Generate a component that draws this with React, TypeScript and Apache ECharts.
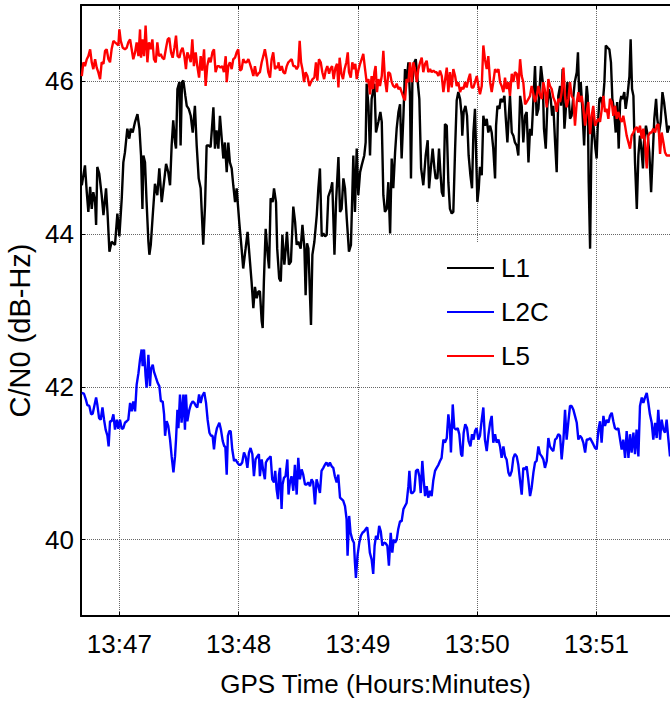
import React, { useEffect, useRef } from "react";
import * as echarts from "echarts";

// Time in seconds relative to 13:47:00, value in dB-Hz
const L1: [number, number][] = [
  [-18.9,44.64],[-17.3,44.90],[-16.4,44.55],[-15.6,44.29],[-14.7,44.62],[-13.9,44.33],[-13.1,44.55],[-12.2,44.42],[-11.7,44.12],[-11.1,44.88],
  [-10.1,44.79],[-8.9,44.51],[-8.0,44.25],[-6.7,44.60],[-5.9,44.25],[-5.0,43.77],[-3.9,43.90],[-2.2,43.86],[-1.0,44.27],[0,43.97],
  [1.2,44.47],[2.0,44.94],[2.8,45.07],[4.0,45.38],[5.0,45.25],[5.7,45.38],[6.7,45.33],[7.9,45.47],[9.1,45.57],[10.1,45.38],
  [10.9,45.03],[11.6,44.33],[12.1,45.03],[12.9,44.94],[13.7,44.42],[14.6,43.90],[15.1,43.73],[15.8,43.86],[16.8,44.25],[17.9,44.66],
  [19.1,44.51],[20.1,44.86],[21.3,44.42],[22.1,44.60],[23.5,44.92],[24.6,44.81],[25.5,44.64],[26.3,45.16],[27.1,45.49],[28.0,45.20],
  [28.5,45.12],[29.2,45.90],[30.2,45.99],[30.8,45.16],[31.5,45.99],[32.2,46.01],[33.2,45.81],[33.9,45.68],[34.9,45.64],[35.9,45.55],
  [36.9,45.33],[38.0,45.68],[38.9,45.16],[39.9,44.73],[40.9,44.60],[42.2,43.86],[43.1,44.38],[43.9,45.16],[44.9,45.16],[45.9,45.14],
  [46.8,45.47],[47.3,45.66],[48.1,45.12],[48.9,45.36],[49.8,45.12],[50.6,45.55],[51.5,45.25],[52.3,44.99],[53.1,45.20],[54.0,44.81],
  [54.8,45.20],[55.6,44.94],[56.5,44.86],[57.3,44.64],[58.2,44.42],[59.0,44.60],[60.3,44.16],[61.5,43.81],[62.3,43.55],[63.5,43.81],
  [64.5,44.03],[65.7,43.64],[66.5,43.38],[67.4,43.03],[68.2,43.31],[69.1,43.16],[69.9,43.25],[70.7,43.25],[71.6,42.86],[72.1,42.77],
  [72.7,43.38],[73.6,44.07],[74.6,43.73],[75.3,43.55],[76.1,44.47],[77.1,44.42],[77.8,44.60],[78.8,44.42],[79.4,43.81],[80.4,43.42],
  [81.2,43.38],[82.0,43.99],[83.0,43.60],[83.7,43.81],[84.3,44.03],[85.3,43.60],[86.3,43.64],[87.5,44.36],[88.4,44.16],[89.2,43.86],
  [90.0,43.90],[91.2,43.81],[92.1,44.12],[93.1,43.81],[93.7,43.20],[94.4,43.88],[95.1,43.81],[96.4,42.81],[97.1,43.73],[98.1,43.90],
  [99.3,44.25],[100.1,44.60],[100.9,44.86],[101.8,43.97],[102.6,44.01],[103.5,43.97],[104.3,43.99],[105.1,44.49],[106.5,44.60],[107.1,44.68],
  [108.2,43.73],[109.0,44.42],[110.2,45.01],[111.0,44.29],[111.8,44.33],[112.7,44.73],[113.5,44.60],[114.4,44.20],[115.5,43.77],[116.5,43.86],
  [117.7,45.03],[118.5,44.29],[119.4,45.12],[120.2,44.51],[121.1,44.81],[121.9,44.90],[123.2,45.03],[123.9,45.20],[124.4,45.97],[125.3,45.68],
  [126.1,45.03],[126.9,45.77],[128.3,45.97],[129.1,45.33],[130.3,45.47],[131.3,45.60],[132.0,45.47],[132.8,44.51],[133.6,44.29],[134.5,44.33],
  [135.3,44.68],[136.2,44.01],[137.0,44.99],[137.8,44.60],[138.7,45.07],[139.5,45.38],[140.4,45.60],[141.2,45.70],[142.0,44.99],[142.9,45.55],
  [143.7,46.16],[144.5,45.99],[145.4,46.25],[146.2,45.81],[146.7,44.73],[147.4,45.99],[148.4,46.25],[149.1,46.29],[150.1,45.99],[150.9,45.77],
  [151.8,44.86],[152.9,44.64],[154.1,45.03],[155.1,45.23],[155.8,44.60],[156.8,44.90],[157.6,45.12],[158.5,44.86],[159.1,44.73],[160.0,44.73],
  [160.8,45.12],[161.5,44.81],[162.2,44.55],[163.0,44.49],[163.8,45.44],[164.7,45.42],[165.5,44.68],[166.3,44.33],[167.2,44.27],[168.0,44.29],
  [168.9,45.12],[169.7,45.75],[170.5,45.86],[171.4,45.77],[172.2,45.55],[172.5,45.29],[173.2,45.60],[174.1,45.68],[174.9,45.55],[175.7,45.03],
  [176.6,44.77],[177.4,44.60],[178.1,45.33],[178.9,45.64],[179.4,45.12],[180.1,44.42],[180.8,44.60],[181.4,44.88],[182.3,44.77],[183.1,45.55],
  [183.9,45.42],[184.8,45.51],[185.6,45.33],[186.5,45.42],[187.3,45.33],[188.1,45.12],[189.0,44.73],[189.5,45.42],[190.2,45.68],[191.2,45.64],
  [191.8,45.77],[192.8,45.73],[193.7,45.81],[194.3,45.55],[195.2,45.20],[195.9,45.55],[196.5,45.81],[197.4,45.33],[198.2,45.29],[199.0,45.20],
  [199.9,45.16],[200.7,45.03],[201.6,45.81],[202.4,45.68],[203.2,45.20],[204.1,45.55],[204.9,45.60],[205.8,44.94],[206.6,45.38],[207.4,45.29],
  [208.3,45.77],[209.1,46.20],[209.9,45.55],[210.8,45.64],[211.6,45.99],[212.1,46.20],[213.0,45.99],[213.6,45.38],[214.5,45.12],[215.3,45.68],
  [216.1,45.90],[217.0,45.77],[217.7,45.55],[218.3,45.68],[219.2,45.20],[220.0,44.81],[220.8,45.81],[221.7,45.94],[222.2,45.68],[223.0,46.16],
  [223.9,45.38],[224.5,45.60],[225.4,45.99],[226.0,45.81],[226.7,45.51],[227.5,45.55],[228.4,45.81],[229.1,45.99],[230.1,46.12],[230.7,46.38],
  [231.4,45.73],[232.1,45.99],[232.9,45.64],[233.8,45.16],[234.4,45.60],[235.1,45.94],[235.6,45.81],[236.1,44.68],[236.8,43.81],[237.4,45.03],
  [238.1,45.55],[238.8,45.33],[239.5,45.12],[240.1,44.99],[240.6,45.38],[241.5,45.77],[242.3,45.79],[243.1,45.68],[244.0,45.99],[244.7,46.47],
  [245.7,46.44],[246.5,46.42],[247.3,46.25],[248.0,45.77],[248.8,45.64],[249.7,45.33],[250.4,45.73],[251.2,45.12],[251.9,45.73],[252.5,45.81],
  [253.2,45.77],[254.0,45.86],[254.7,45.64],[255.6,45.81],[256.6,46.07],[257.2,46.55],[257.9,45.90],[258.6,45.81],[259.4,44.94],[260.3,44.33],
  [261.1,45.03],[261.9,45.29],[262.6,45.12],[263.4,44.86],[263.9,45.20],[264.9,45.42],[265.8,45.29],[266.6,45.07],[267.5,44.55],[268.3,45.03],
  [269.1,45.51],[270.0,45.77],[270.6,45.51],[271.5,45.33],[272.3,45.47],[273.2,45.86],[274.0,45.73],[274.8,45.55],[275.7,45.33],[276.7,45.42],
];

const L2C: [number, number][] = [
  [-18.9,41.92],[-17.8,41.91],[-16.8,41.83],[-16.1,41.76],[-15.1,41.75],[-14.2,41.64],[-13.4,41.65],[-12.6,41.75],[-11.7,41.86],[-11.1,41.77],
  [-10.2,41.59],[-9.4,41.57],[-8.5,41.73],[-7.7,41.57],[-6.9,41.44],[-6.0,41.36],[-5.4,41.22],[-4.7,41.55],[-3.9,41.55],[-3.0,41.64],
  [-2.2,41.44],[-1.3,41.57],[-0.5,41.45],[0.3,41.57],[1.2,41.45],[2.0,41.46],[2.8,41.53],[3.7,41.55],[4.5,41.57],[5.4,41.79],
  [6.2,41.68],[7.0,41.81],[7.9,41.68],[8.7,42.03],[9.6,42.18],[10.4,42.36],[11.2,42.49],[11.7,42.27],[12.4,42.49],[13.2,42.14],
  [13.7,41.99],[14.6,42.42],[15.4,42.01],[15.9,42.23],[16.8,42.29],[17.4,42.20],[18.4,42.12],[19.3,42.05],[20.1,42.01],[20.9,41.81],
  [21.8,41.81],[22.5,41.64],[23.0,41.36],[23.8,41.55],[24.6,41.49],[25.5,41.31],[26.3,41.09],[27.2,40.88],[28.0,41.09],[28.5,41.31],
  [29.2,41.70],[29.7,41.46],[30.5,41.90],[31.3,41.53],[32.2,41.90],[33.0,41.44],[33.5,41.90],[34.2,41.55],[35.2,41.70],[36.0,41.77],
  [36.9,41.81],[37.7,41.79],[38.5,41.75],[39.2,41.73],[40.1,41.90],[40.9,41.79],[41.7,41.88],[42.7,41.93],[43.6,41.79],[44.4,41.57],
  [45.3,41.40],[46.1,41.36],[46.9,41.36],[47.6,41.18],[48.3,41.36],[49.1,41.46],[50.3,41.53],[51.1,41.44],[52.0,41.29],[52.8,41.22],
  [53.3,41.22],[54.0,40.85],[54.6,41.36],[55.3,41.42],[56.0,41.42],[56.8,41.18],[57.7,41.03],[58.5,41.05],[59.3,41.01],[60.2,40.98],
  [61.0,40.98],[61.8,41.01],[62.7,41.14],[63.5,41.09],[64.4,40.94],[65.2,41.14],[66.0,41.20],[66.9,41.12],[67.7,40.83],[68.5,41.05],
  [69.4,41.09],[70.2,41.12],[70.7,40.83],[71.6,41.05],[72.4,40.90],[73.2,40.79],[73.7,41.01],[74.6,41.05],[75.4,41.07],[76.1,41.09],
  [76.9,40.79],[77.8,40.75],[78.4,40.90],[79.1,40.66],[79.8,40.53],[80.3,40.85],[80.8,40.94],[81.6,40.40],[82.1,40.72],[82.8,40.81],
  [83.6,40.83],[84.5,41.05],[85.1,40.59],[85.8,40.75],[86.6,40.83],[87.5,40.64],[88.3,40.98],[89.2,40.59],[90.0,41.07],[90.8,40.79],
  [91.7,40.92],[92.5,40.85],[93.4,40.72],[94.2,40.72],[95.0,40.75],[95.9,40.70],[96.7,40.79],[97.5,40.75],[98.4,40.46],[99.2,40.79],
  [100.1,40.70],[100.9,40.61],[101.7,40.90],[102.6,40.94],[103.4,40.98],[104.2,41.01],[105.1,40.96],[105.9,41.01],[106.8,40.96],[107.6,40.94],
  [108.4,40.83],[109.3,40.75],[110.1,40.85],[111.0,40.55],[111.8,40.53],[112.6,40.51],[113.5,40.44],[114.3,40.27],[114.8,39.79],[115.6,40.31],
  [116.3,40.09],[117.2,40.00],[118.0,39.96],[118.5,39.70],[119.0,39.50],[119.8,39.79],[120.7,39.96],[121.5,40.05],[122.3,40.09],[123.2,40.11],
  [124.0,40.14],[124.7,40.16],[125.4,40.00],[126.0,39.83],[126.9,39.74],[127.7,39.55],[128.4,39.92],[129.1,40.05],[129.9,40.00],[130.7,40.18],
  [131.5,40.11],[132.3,39.92],[133.1,39.96],[134.0,39.95],[134.8,39.92],[135.6,39.66],[136.5,40.09],[137.3,39.83],[138.0,40.00],[138.7,39.96],
  [139.5,40.00],[140.3,40.14],[141.2,40.24],[142.0,40.24],[142.9,40.40],[143.7,40.44],[144.5,40.48],[145.4,40.70],[145.9,40.90],[146.7,40.61],
  [147.5,40.61],[148.4,40.64],[149.2,40.90],[150.1,40.92],[150.9,40.83],[151.6,40.61],[152.4,41.03],[153.2,40.75],[153.8,40.57],[154.6,40.70],
  [155.4,40.55],[156.3,40.64],[157.1,40.57],[157.9,40.77],[158.8,40.90],[159.6,40.94],[160.5,40.98],[161.3,41.03],[162.1,41.07],[163.0,41.31],
  [163.8,41.27],[164.7,41.33],[165.5,41.64],[166.3,41.46],[166.8,41.14],[167.7,41.77],[168.5,41.46],[169.4,41.44],[170.2,41.46],[171.0,41.38],
  [171.9,41.12],[172.5,41.09],[173.2,41.40],[174.0,41.51],[174.9,41.46],[175.7,41.29],[176.6,41.22],[177.4,41.38],[178.2,41.31],[178.9,41.42],
  [179.7,41.46],[180.6,41.31],[181.4,41.36],[182.3,41.57],[183.1,41.73],[183.9,41.31],[184.8,41.16],[185.6,41.36],[186.5,41.53],[187.3,41.62],
  [188.1,41.27],[189.0,41.38],[189.8,41.27],[190.7,41.31],[191.5,41.22],[192.3,41.07],[193.2,41.22],[194.0,41.09],[194.8,41.05],[195.7,40.88],
  [196.5,40.83],[197.4,40.90],[198.2,41.07],[199.0,41.12],[199.9,41.09],[200.7,40.98],[201.5,40.79],[202.4,40.59],[203.2,40.94],[204.1,40.92],
  [204.9,40.96],[205.7,40.79],[206.6,40.57],[207.4,40.68],[208.3,40.88],[209.1,41.01],[209.9,41.03],[210.8,41.22],[211.6,41.12],[212.5,41.09],
  [213.3,41.05],[214.1,40.94],[215.0,41.03],[215.8,41.33],[216.6,41.22],[217.5,41.18],[218.3,41.16],[219.2,41.31],[220.0,41.33],[220.8,41.38],
  [221.7,41.36],[222.5,41.05],[223.4,41.31],[224.2,41.70],[225.0,41.31],[225.9,41.55],[226.7,41.75],[227.5,41.75],[228.4,41.70],[229.2,41.62],
  [230.1,41.53],[230.9,41.31],[231.7,41.36],[232.6,41.33],[233.4,41.27],[234.3,41.14],[235.1,41.31],[235.9,41.31],[236.8,41.33],[237.6,41.29],
  [238.4,41.25],[239.3,41.20],[240.1,41.18],[241.0,41.44],[241.8,41.55],[242.6,41.27],[243.5,41.62],[244.3,41.49],[245.2,41.57],[246.0,41.53],
  [246.8,41.62],[247.7,41.66],[248.5,41.55],[249.3,41.46],[250.2,41.44],[251.0,41.46],[251.9,41.31],[252.7,41.18],[253.5,41.31],[254.4,41.07],
  [255.2,41.42],[256.1,41.07],[256.9,41.38],[257.7,41.14],[258.6,41.40],[259.4,41.12],[260.2,41.44],[261.1,41.09],[261.9,41.75],[262.8,41.86],
  [263.6,41.79],[264.4,41.86],[265.3,41.92],[266.1,41.79],[266.9,41.64],[267.8,41.53],[268.6,41.31],[269.5,41.53],[270.3,41.33],[271.1,41.70],
  [272.0,41.31],[272.8,41.57],[273.7,41.44],[274.5,41.40],[275.3,41.57],[276.2,41.31],[277.0,41.09],
];

const L5: [number, number][] = [
  [-18.9,46.07],[-18.1,46.25],[-17.3,46.20],[-16.4,46.29],[-15.6,46.33],[-14.7,46.42],[-13.9,46.25],[-13.1,46.16],[-12.2,46.29],[-11.4,46.18],
  [-10.6,46.12],[-9.7,46.03],[-8.9,46.25],[-8.0,46.23],[-7.2,46.40],[-6.4,46.42],[-5.5,46.29],[-4.7,46.25],[-3.9,46.42],[-3.0,46.53],
  [-2.2,46.51],[-1.3,46.49],[-0.5,46.47],[0.0,46.68],[0.7,46.53],[1.7,46.44],[2.8,46.42],[3.7,46.44],[4.5,46.51],[5.4,46.55],
  [6.2,46.42],[7.0,46.29],[7.9,46.38],[8.7,46.51],[9.6,46.33],[10.4,46.68],[10.9,46.31],[11.6,46.55],[12.4,46.33],[13.2,46.73],
  [14.1,46.25],[14.9,46.51],[15.8,46.42],[16.6,46.55],[17.4,46.29],[18.3,46.25],[19.1,46.51],[19.9,46.33],[20.8,46.36],[21.6,46.31],
  [22.5,46.29],[23.5,46.44],[24.3,46.55],[25.1,46.57],[26.0,46.38],[26.8,46.31],[27.7,46.44],[28.5,46.60],[29.3,46.33],[30.2,46.31],
  [31.0,46.40],[31.8,46.44],[32.7,46.33],[33.5,46.16],[34.2,46.38],[35.0,46.33],[35.9,46.25],[36.7,46.55],[37.5,46.20],[38.4,46.38],
  [39.2,46.20],[40.1,46.05],[40.9,46.33],[41.7,46.14],[42.6,46.42],[43.4,45.94],[44.2,46.20],[45.1,46.31],[45.9,46.25],[46.8,46.38],
  [47.6,46.42],[48.4,46.12],[49.3,46.20],[50.1,46.20],[50.9,46.18],[51.8,46.20],[52.6,46.12],[53.5,46.33],[54.0,45.99],[54.8,46.20],
  [55.6,46.25],[56.5,46.16],[57.3,46.29],[58.2,46.31],[59.0,46.38],[59.8,46.42],[60.7,46.14],[61.5,46.16],[62.3,46.29],[63.2,46.25],
  [64.0,46.25],[64.9,46.29],[65.7,46.23],[66.5,46.16],[67.4,46.07],[68.2,46.20],[69.1,46.07],[69.9,46.10],[70.7,46.12],[71.6,46.25],
  [72.4,46.33],[73.2,46.42],[74.1,46.29],[74.9,46.12],[75.8,46.05],[76.6,46.29],[77.4,46.38],[78.3,46.16],[79.1,46.20],[79.9,46.18],
  [80.0,46.25],[80.8,46.14],[81.7,46.20],[82.5,46.12],[83.3,46.10],[84.2,46.20],[85.0,46.25],[85.8,46.27],[86.7,46.29],[87.5,46.20],
  [88.4,46.20],[89.2,46.16],[90.0,46.20],[90.7,46.53],[91.4,46.25],[92.1,46.16],[92.9,45.99],[93.7,46.12],[94.6,46.07],[95.6,45.94],
  [96.4,45.99],[97.2,46.03],[98.1,46.05],[98.9,46.25],[99.6,46.01],[100.4,46.29],[101.3,46.25],[102.1,46.12],[103.0,46.03],[103.8,46.14],
  [104.6,46.20],[105.5,46.10],[106.1,46.16],[107.0,46.20],[107.8,46.03],[108.7,46.18],[109.5,46.23],[110.2,45.92],[110.8,46.31],[111.7,46.10],
  [112.5,46.03],[113.3,46.16],[114.2,46.25],[114.9,46.38],[115.5,46.12],[116.4,46.05],[117.2,46.25],[117.9,46.16],[118.7,46.23],[119.4,46.03],
  [120.2,46.14],[121.1,46.23],[121.9,46.29],[122.7,46.36],[123.6,46.16],[124.4,45.99],[125.3,46.03],[126.1,45.83],[126.9,46.07],[127.6,45.90],
  [128.3,46.12],[128.9,46.20],[129.6,45.86],[130.3,46.03],[131.1,45.94],[132.0,46.07],[132.8,46.40],[133.6,46.03],[134.5,45.86],[135.3,46.12],
  [136.2,46.10],[137.0,45.99],[137.8,45.94],[138.7,45.92],[139.5,45.97],[140.4,45.90],[141.2,45.92],[142.0,45.86],[142.9,45.79],[143.7,45.75],
  [144.5,46.03],[145.4,45.99],[146.2,46.25],[147.1,45.99],[147.9,46.25],[148.7,46.16],[149.6,45.99],[150.4,46.16],[151.3,46.25],[152.1,46.31],
  [152.9,46.12],[153.8,46.23],[154.6,46.27],[155.4,46.12],[156.3,46.16],[157.1,46.12],[158.0,46.14],[158.8,46.12],[159.6,46.12],[160.5,46.07],
  [161.3,46.14],[162.2,46.07],[163.0,45.86],[163.8,46.01],[164.7,46.18],[165.5,45.86],[166.3,46.12],[167.2,45.92],[168.0,46.16],[168.9,46.07],
  [169.7,45.94],[170.5,45.99],[171.4,45.86],[172.2,45.92],[173.1,45.90],[173.9,45.99],[174.7,45.92],[175.6,46.03],[176.4,46.10],[177.2,45.92],
  [178.1,45.92],[178.9,45.99],[179.8,46.07],[180.6,45.94],[181.4,45.83],[182.3,45.94],[183.1,46.47],[183.9,46.29],[184.8,46.16],[185.6,46.33],
  [186.5,45.99],[187.3,45.86],[188.1,45.99],[189.0,46.16],[189.8,46.12],[190.7,46.16],[191.5,45.99],[192.3,45.94],[193.2,45.86],[194.0,46.05],
  [194.8,45.90],[195.7,45.99],[196.5,45.81],[197.4,46.10],[198.2,45.99],[199.0,46.12],[199.9,46.10],[200.7,45.90],[201.6,46.29],[202.4,46.07],
  [203.2,45.99],[204.1,45.70],[204.9,45.73],[205.8,45.77],[206.6,45.81],[207.4,45.94],[208.3,45.83],[209.1,45.73],[209.9,45.81],[210.8,45.94],
  [211.6,45.83],[212.5,45.77],[213.3,45.99],[214.1,45.88],[215.0,45.66],[215.8,46.03],[216.6,45.94],[217.5,45.90],[218.3,45.79],[219.2,45.73],
  [220.0,45.60],[220.8,45.77],[221.7,45.73],[222.5,45.86],[223.4,46.18],[224.2,45.81],[225.0,45.66],[225.9,45.77],[226.7,45.99],[227.5,45.81],
  [228.4,45.77],[229.2,45.42],[230.1,45.73],[230.9,45.86],[231.7,45.73],[232.6,45.81],[233.4,45.64],[234.3,45.42],[235.1,45.60],[235.9,45.73],
  [236.8,45.31],[237.6,45.55],[238.4,45.68],[239.3,45.42],[240.1,45.47],[241.0,45.51],[241.8,45.47],[242.6,45.62],[243.5,45.81],[244.3,45.60],
  [245.2,45.64],[246.0,45.51],[246.8,45.77],[247.7,45.73],[248.5,45.55],[249.4,45.68],[250.2,45.51],[251.0,45.60],[251.9,45.51],[252.7,45.47],
  [253.5,45.55],[254.4,45.42],[255.2,45.29],[256.1,45.20],[256.9,45.12],[257.7,45.29],[258.6,45.33],[259.4,45.38],[260.3,45.40],[261.1,45.33],
  [261.9,45.42],[262.8,45.25],[263.6,45.38],[264.4,45.20],[265.3,44.86],[266.1,45.29],[267.0,45.33],[267.8,45.33],[268.6,45.38],[269.5,45.33],
  [270.3,45.42],[271.2,45.44],[272.0,45.05],[272.8,45.33],[273.7,45.20],[274.5,45.07],[275.3,45.03],[276.2,45.03],[277.0,45.03],
];

const X_TICKS = [0, 60, 120, 180, 240];
const X_TICK_LABELS = ["13:47", "13:48", "13:49", "13:50", "13:51"];
const Y_TICKS = [40, 42, 44, 46];

const FONT = "'Liberation Sans', Arial, sans-serif";

export default function App() {
  const ref = useRef<HTMLDivElement>(null);
  useEffect(() => {
    if (!ref.current) return;
    const chart = echarts.init(ref.current, undefined, { renderer: "svg" });
    const axisLine = { show: true, onZero: false, lineStyle: { color: "#000", width: 2 } };
    const gridLine = { show: true, lineStyle: { type: "dotted", color: "#666", width: 1 } };
    chart.setOption({
      animation: false,
      backgroundColor: "#fff",
      textStyle: { fontFamily: FONT },
      grid: { left: 81, right: 0, top: 5, bottom: 86, containLabel: false, outerBoundsMode: "none" },
      legend: {
        data: ["L1", "L2C", "L5"],
        orient: "vertical",
        left: 440,
        top: 242,
        icon: "rect",
        itemWidth: 47,
        itemHeight: 2,
        itemGap: 14,
        padding: [11, 10, 15, 7],
        backgroundColor: "#fff",
        selectedMode: false,
        textStyle: { fontSize: 26, lineHeight: 30, color: "#000", fontFamily: FONT, padding: [0, 0, 0, 2] },
      },
      xAxis: [
        {
          type: "value",
          min: -19.3,
          max: 277,
          position: "bottom",
          axisLine,
          axisTick: { show: true, inside: true, length: 4, customValues: X_TICKS, lineStyle: { color: "#000" } },
          axisLabel: {
            customValues: X_TICKS,
            formatter: (v: number) => X_TICK_LABELS[X_TICKS.indexOf(v)] ?? "",
            fontSize: 26,
            color: "#000",
            margin: 15,
            fontFamily: FONT,
          },
          splitLine: gridLine,
          name: "GPS Time (Hours:Minutes)",
          nameLocation: "middle",
          nameGap: 55,
          nameTextStyle: { fontSize: 26, color: "#000", fontFamily: FONT },
        },
        {
          type: "value",
          min: -19.3,
          max: 277,
          position: "top",
          axisLine,
          axisTick: { show: true, inside: true, length: 4, customValues: X_TICKS, lineStyle: { color: "#000" } },
          axisLabel: { show: false },
          splitLine: { show: false },
        },
      ],
      yAxis: {
        type: "value",
        min: 39,
        max: 47,
        axisLine,
        axisTick: { show: true, inside: true, length: 4, customValues: Y_TICKS, lineStyle: { color: "#000" } },
        axisLabel: { customValues: Y_TICKS, fontSize: 26, color: "#000", margin: 7, fontFamily: FONT },
        splitLine: gridLine,
        name: "C/N0 (dB-Hz)",
        nameLocation: "middle",
        nameGap: 46,
        nameRotate: 90,
        nameTextStyle: { fontSize: 29, color: "#000", fontFamily: FONT, padding: [0, 40, 0, 0] },
      },
      series: [
        { name: "L1", type: "line", data: L1, symbol: "none", lineStyle: { color: "#000000", width: 2.4 }, itemStyle: { color: "#000000" } },
        { name: "L2C", type: "line", data: L2C, symbol: "none", lineStyle: { color: "#0000ff", width: 2.4 }, itemStyle: { color: "#0000ff" } },
        { name: "L5", type: "line", data: L5, symbol: "none", lineStyle: { color: "#ff0000", width: 2.4 }, itemStyle: { color: "#ff0000" } },
      ],
    });
    return () => chart.dispose();
  }, []);
  return <div ref={ref} style={{ width: 670, height: 702, position: "absolute", left: 0, top: 0 }} />;
}
